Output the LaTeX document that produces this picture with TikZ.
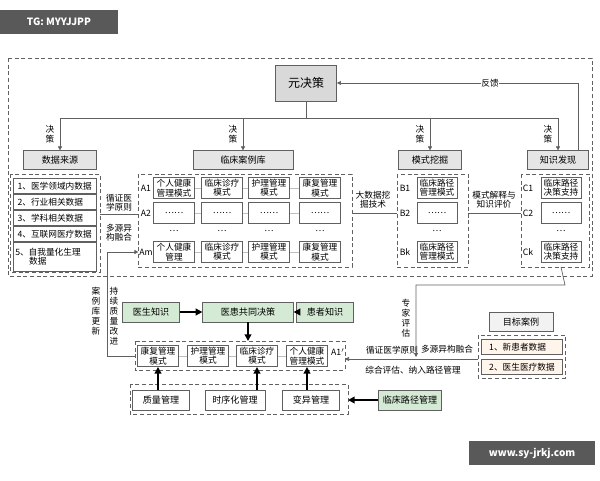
\documentclass[tikz,border=0pt]{standalone}
\usepackage{fontspec}
\setmainfont{Noto Sans CJK SC}
\usetikzlibrary{arrows.meta,positioning}
\tikzset{
  line/.style={draw=gray!75!black, line width=0.5pt},
  grp/.style={draw=gray!75!black, densely dashed, line width=0.5pt},
  head/.style={draw=gray!75!black, fill=gray!20, minimum height=14pt, inner sep=1pt, font=\fontsize{6.8}{7}\selectfont},
  cell/.style={draw=gray!75!black, fill=white, minimum width=31pt, minimum height=16pt, inner sep=0.5pt, align=center, font=\fontsize{6.5}{7}\selectfont},
  item/.style={draw=gray!75!black, fill=white, minimum width=62pt, minimum height=11pt, inner sep=1.5pt, anchor=west, font=\fontsize{6.5}{7}\selectfont},
  green/.style={draw=gray!75!black, fill=green!35!gray!25, minimum height=15pt, inner sep=1pt, font=\fontsize{6.8}{7}\selectfont},
  plain/.style={draw=gray!75!black, fill=white, minimum height=15pt, inner sep=1pt, font=\fontsize{6.8}{7}\selectfont},
  lbl/.style={inner sep=0.5pt, align=center, font=\fontsize{6.5}{7}\selectfont},
  vlbl/.style={lbl, font=\fontsize{6.5}{7.6}\selectfont},
  arr/.style={line, -{Triangle[length=3pt,width=3pt]}},
  bigarr/.style={draw=black, line width=1.3pt, -{Triangle[length=5pt,width=5pt]}},
}
\begin{document}
\begin{tikzpicture}[x=0.75pt,y=-0.75pt]
\useasboundingbox (0,0) rectangle (600,480);
% watermarks
\node[fill=gray!70!black, text=white, font=\fontsize{7.5}{8}\selectfont\bfseries, minimum width=88pt, minimum height=18pt, anchor=north west] (wm1) at (0,10) {TG: MYYJJPP};
\node[fill=gray!70!black, text=white, font=\fontsize{7.5}{8}\selectfont\bfseries, minimum width=94pt, minimum height=18pt, anchor=north east] (wm2) at (595,441) {www.sy-jrkj.com};
% outer frame
\draw[grp] (8,58) rectangle (592,276);
% top
\node[draw=gray!75!black, fill=gray!30, minimum width=46pt, minimum height=27pt, font=\fontsize{9}{10}\selectfont] (meta) at (306,83) {元决策};
\node[head, minimum width=55pt] (src) at (60,160) {数据来源};
\node[head, minimum width=75pt] (lib) at (243,160) {临床案例库};
\node[head, minimum width=47pt] (mine) at (430,160) {模式挖掘};
\node[head, minimum width=46pt] (know) at (558,160) {知识发现};
\coordinate (bar) at (306,118);
\draw[line] (meta) -- (bar);
\draw[line] (60,118) -- (558,118);
\foreach \n/\x in {src/60, lib/243, mine/430, know/558}{
  \draw[arr] (\x,118) -- (\n.north);
  \node[vlbl] at (\x-10,134) {决\\策};
}
\draw[arr] (know.north -| 578,0) -- (578,83) -- (meta.east);
\node[lbl, fill=white] (fb) at (490,83) {反馈};
% data source
\draw[grp] (10,174) rectangle (100,272);
\node[item] (d1) at (13,186) {1、医学领域内数据};
\node[item] (d2) at (13,202) {2、行业相关数据\hphantom{数}};
\node[item] (d3) at (13,218) {3、学科相关数据\hphantom{数}};
\node[item] (d4) at (13,234) {4、互联网医疗数据};
\node[item, minimum height=22pt, align=left, text width=59pt] (d5) at (13,257) {5、自我量化生理\\\hspace{1.6em}数据};
% case library
\draw[grp] (138,174) rectangle (352,267);
\foreach \r/\y/\t in {1/188/A1, 2/213/A2, 3/252/Am}
  \node[lbl, font=\fontsize{6.5}{7}\selectfont] (ra\r) at (146,\y) {\t};
\node[cell] (a11) at (174,188) {个人健康\\管理模式};
\node[cell] (a12) at (222,188) {临床诊疗\\模式};
\node[cell] (a13) at (269,188) {护理管理\\模式};
\node[cell] (a14) at (320,188) {康复管理\\模式};
\foreach \c/\x in {1/174,2/222,3/269,4/320}{
  \node[cell] (a2\c) at (\x,213) {……};
  \node[lbl] at (\x,231) {…};
}
\node[cell] (a31) at (174,252) {个人健康\\管理};
\node[cell] (a32) at (222,252) {临床诊疗\\模式};
\node[cell] (a33) at (269,252) {护理管理\\模式};
\node[cell] (a34) at (320,252) {康复管理\\模式};
\foreach \r in {1,2,3}{
  \draw[line, gray!50] (a\r1) -- (a\r2);
  \draw[line, gray!50] (a\r2) -- (a\r3);
  \draw[line, gray!50] (a\r3) -- (a\r4);
}
\draw[line] (100,214) -- (138,214);
\node[lbl] (ebm1) at (119,203) {循证医\\学原则};
\node[lbl] (fus1) at (119,233) {多源异\\构融合};
% pattern mining
\draw[grp] (397,174) rectangle (468,267);
\node[lbl] at (405,188) {B1};
\node[lbl] at (405,213) {B2};
\node[lbl] at (405,252) {Bk};
\node[cell, minimum width=30pt] (b1) at (437,188) {临床路径\\管理模式};
\node[cell, minimum width=30pt] (b2) at (437,213) {……};
\node[lbl] at (437,231) {…};
\node[cell, minimum width=30pt] (b3) at (437,252) {临床路径\\管理模式};
\draw[line] (352,213) -- (397,213);
\node[lbl, fill=white] (bigd) at (373,200) {大数据挖\\掘技术};
% knowledge discovery
\draw[grp] (521,174) rectangle (589,267);
\node[lbl] at (528,188) {C1};
\node[lbl] at (528,213) {C2};
\node[lbl] at (528,252) {Ck};
\node[cell, minimum width=30pt] (c1) at (561,188) {临床路径\\决策支持};
\node[cell, minimum width=30pt] (c2) at (561,213) {……};
\node[lbl] at (561,231) {…};
\node[cell, minimum width=30pt] (c3) at (561,252) {临床路径\\决策支持};
\draw[line] (468,213) -- (521,213);
\node[lbl, fill=white] (interp) at (494,200) {模式解释与\\知识评价};
% lower part
\node[green, minimum width=43pt] (doc) at (151,312) {医生知识};
\node[green, minimum width=68pt] (share) at (248,312) {医患共同决策};
\node[green, minimum width=43pt] (pat) at (325,312) {患者知识};
\draw[bigarr] (doc) -- (share);
\draw[bigarr] (pat) -- (share);
\draw[grp] (135,341) rectangle (345,370);
\node[cell] (m1) at (158,356) {康复管理\\模式};
\node[cell] (m2) at (208,356) {护理管理\\模式};
\node[cell] (m3) at (257,356) {临床诊疗\\模式};
\node[cell] (m4) at (307,356) {个人健康\\管理模式};
\draw[line, gray!50] (m1) -- (m2);
\draw[line, gray!50] (m2) -- (m3);
\draw[line, gray!50] (m3) -- (m4);
\node[lbl] (a1p) at (338,352) {A1$'$};
\draw[bigarr] (share) -- (248,341);
\draw[grp] (130,384) rectangle (348,414);
\node[plain, minimum width=43pt] (q) at (161,400) {质量管理};
\node[plain, minimum width=45pt] (t) at (235,400) {时序化管理};
\node[plain, minimum width=43pt] (v) at (311,400) {变异管理};
\draw[bigarr] (q.north -| m1) -- (m1);
\draw[bigarr] (t.north -| m3) -- (m3);
\draw[bigarr] (v.north -| m4) -- (m4);
\node[green, minimum width=47pt] (cpm) at (410,400) {临床路径管理};
\draw[bigarr] (cpm) -- (348,400);
% case library update loop
\draw[arr] (135,356) -- (107,356) -- (107,252) -- (ra3.west);
\node[vlbl] (upd) at (96,311) {案\\例\\库\\更\\新};
\node[vlbl] (cqi) at (114,316) {持\\续\\质\\量\\改\\进};
% target case
\node[head, minimum width=48pt, fill=gray!10] (tgt) at (521,322) {目标案例};
\draw[grp] (478,335) rectangle (565,378);
\node[item, fill=orange!8, minimum width=61pt] (t1) at (481,347) {1、新患者数据\hphantom{数}};
\node[item, fill=orange!8, minimum width=61pt] (t2) at (481,367) {2、医生医疗数据};
\draw[arr] (478,359) -- (345,359);
\node[lbl] (ebm2) at (392,350) {循证医学原则};
\node[lbl] (fus2) at (447,349) {多源异构融合};
\node[lbl] (comp) at (413,370) {综合评估、纳入路径管理};
% expert evaluation
\draw[arr] (c3.south |- 0,267) -- (565,285) -- (416,285) -- (416,357);
\node[vlbl] (exp) at (406,318) {专\\家\\评\\估};
\end{tikzpicture}
\end{document}
